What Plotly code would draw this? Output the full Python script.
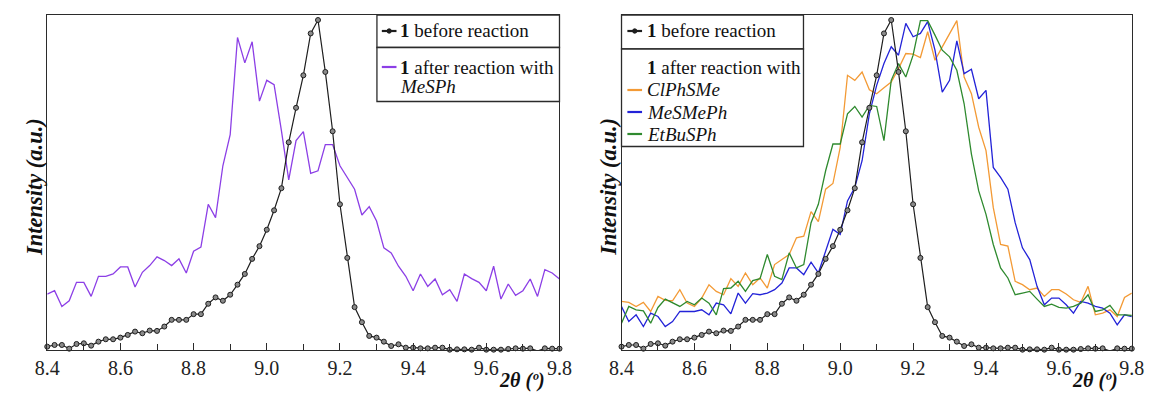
import plotly.graph_objects as go

W, H = 1153, 393

# 2-theta grid (degrees), 0.02 step from 8.40 to 9.80
two_theta = [round(8.40 + 0.02 * i, 2) for i in range(71)]

# Compound 1 before reaction
before = [0.010, 0.015, 0.015, 0.004, 0.018, 0.020, 0.013, 0.025, 0.032, 0.032,
          0.037, 0.045, 0.055, 0.050, 0.058, 0.057, 0.070, 0.090, 0.090, 0.090,
          0.107, 0.107, 0.138, 0.157, 0.147, 0.165, 0.195, 0.227, 0.272, 0.310,
          0.359, 0.417, 0.483, 0.620, 0.723, 0.820, 0.945, 0.985, 0.830, 0.653,
          0.435, 0.275, 0.128, 0.083, 0.042, 0.037, 0.025, 0.012, 0.017, 0.007,
          0.007, 0.005, 0.005, 0.007, 0.007, 0.001, 0.002, 0.002, 0.001, 0.007,
          0.001, 0.001, 0.001, 0.003, 0.005, 0.004, 0.005, -0.003, 0.005, 0.004,
          0.004]

# 1 after reaction with MeSPh
mesph = [0.167, 0.177, 0.130, 0.147, 0.202, 0.202, 0.160, 0.220, 0.220, 0.227,
         0.248, 0.248, 0.188, 0.232, 0.252, 0.278, 0.267, 0.252, 0.272, 0.230,
         0.295, 0.307, 0.435, 0.395, 0.550, 0.643, 0.933, 0.857, 0.920, 0.743,
         0.805, 0.792, 0.655, 0.508, 0.625, 0.652, 0.527, 0.535, 0.613, 0.613,
         0.550, 0.515, 0.480, 0.403, 0.428, 0.385, 0.305, 0.290, 0.250, 0.220,
         0.177, 0.227, 0.190, 0.212, 0.165, 0.180, 0.145, 0.227, 0.213, 0.202,
         0.177, 0.250, 0.152, 0.197, 0.163, 0.177, 0.212, 0.160, 0.240, 0.230,
         0.212]

# 1 after reaction with ClPhSMe
clphsme = [0.145, 0.142, 0.130, 0.142, 0.115, 0.160, 0.148, 0.147, 0.180, 0.140,
           0.130, 0.155, 0.195, 0.175, 0.165, 0.213, 0.190, 0.230, 0.195, 0.215,
           0.185, 0.255, 0.270, 0.285, 0.335, 0.340, 0.413, 0.383, 0.480, 0.497,
           0.605, 0.820, 0.805, 0.830, 0.777, 0.765, 0.783, 0.800, 0.840, 0.885,
           0.883, 0.873, 0.950, 0.865, 0.905, 0.945, 0.983, 0.815, 0.765, 0.665,
           0.595, 0.425, 0.315, 0.310, 0.205, 0.195, 0.180, 0.185, 0.160, 0.180,
           0.180, 0.167, 0.150, 0.142, 0.190, 0.105, 0.110, 0.120, 0.100, 0.157,
           0.170]

# 1 after reaction with MeSMePh
mesmeph = [0.130, 0.085, 0.105, 0.070, 0.110, 0.100, 0.070, 0.085, 0.115, 0.115,
           0.115, 0.120, 0.105, 0.140, 0.135, 0.108, 0.170, 0.140, 0.168, 0.165,
           0.170, 0.180, 0.200, 0.245, 0.245, 0.225, 0.262, 0.230, 0.297, 0.360,
           0.345, 0.445, 0.485, 0.565, 0.705, 0.790, 0.855, 0.905, 0.880, 0.975,
           0.935, 0.945, 0.980, 0.895, 0.770, 0.805, 0.923, 0.825, 0.838, 0.750,
           0.775, 0.545, 0.515, 0.480, 0.380, 0.305, 0.270, 0.190, 0.135, 0.155,
           0.155, 0.135, 0.110, 0.145, 0.140, 0.130, 0.125, 0.110, 0.075, 0.105,
           0.100]

# 1 after reaction with EtBuSPh
etbusph = [0.080, 0.130, 0.120, 0.117, 0.080, 0.127, 0.152, 0.142, 0.130, 0.145,
           0.135, 0.155, 0.140, 0.105, 0.183, 0.185, 0.205, 0.175, 0.207, 0.213,
           0.285, 0.220, 0.210, 0.290, 0.245, 0.255, 0.380, 0.435, 0.535, 0.615,
           0.615, 0.705, 0.727, 0.695, 0.730, 0.727, 0.625, 0.805, 0.855, 0.815,
           0.880, 0.983, 0.983, 0.940, 0.895, 0.875, 0.835, 0.735, 0.585, 0.475,
           0.405, 0.315, 0.245, 0.215, 0.165, 0.170, 0.175, 0.152, 0.130, 0.137,
           0.127, 0.125, 0.130, 0.140, 0.165, 0.115, 0.120, 0.133, 0.105, 0.105,
           0.103]

tick_vals = [8.4, 8.6, 8.8, 9.0, 9.2, 9.4, 9.6, 9.8]
tick_text = ["8.4", "8.6", "8.8", "9.0", "9.2", "9.4", "9.6", "9.8"]

SERIF = "Liberation Serif"
AXIS_COLOR = "#2b2b2b"
TEXT_COLOR = "#111111"
BLACK = "#1e1e1e"
PURPLE = "#8c3fe6"
ORANGE = "#f39a35"
BLUE = "#2323d8"
GREEN = "#2f8a2f"


def px(x):
    return x / W


def py(y):
    return 1 - y / H


fig = go.Figure()

black_style = dict(
    mode="lines+markers",
    line=dict(color=BLACK, width=1.2),
    marker=dict(symbol="circle", size=5, color="#8a8a8a",
                line=dict(color=BLACK, width=1)),
    cliponaxis=False,
    showlegend=False,
)

# left panel
fig.add_trace(go.Scatter(x=two_theta, y=mesph, mode="lines",
                         line=dict(color=PURPLE, width=1.3),
                         xaxis="x", yaxis="y", showlegend=False,
                         name="1 after reaction with MeSPh"))
fig.add_trace(go.Scatter(x=two_theta, y=before, xaxis="x", yaxis="y",
                         name="1 before reaction", **black_style))

# right panel
for vals, col, nm in [(clphsme, ORANGE, "ClPhSMe"),
                      (mesmeph, BLUE, "MeSMePh"),
                      (etbusph, GREEN, "EtBuSPh")]:
    fig.add_trace(go.Scatter(x=two_theta, y=vals, mode="lines",
                             line=dict(color=col, width=1.3),
                             xaxis="x2", yaxis="y2", showlegend=False,
                             name="1 after reaction with " + nm))
fig.add_trace(go.Scatter(x=two_theta, y=before, xaxis="x2", yaxis="y2",
                         name="1 before reaction", **black_style))

ydom = [py(350), py(15)]
xaxis_common = dict(
    range=[8.4, 9.8], showgrid=False, zeroline=False,
    showline=True, mirror=True, linecolor=AXIS_COLOR, linewidth=1.3,
    ticks="inside", ticklen=7, tickwidth=1.2, tickcolor=AXIS_COLOR,
    tickmode="array", tickvals=tick_vals, ticktext=tick_text,
    minor=dict(ticks="inside", ticklen=6, tickwidth=1.2,
               tickcolor=AXIS_COLOR, dtick=0.1, tick0=8.4, showgrid=False),
    tickfont=dict(family=SERIF, size=20, color="#222"),
)
yaxis_common = dict(
    range=[0, 1], showgrid=False, zeroline=False, showticklabels=False,
    showline=True, mirror=True, linecolor=AXIS_COLOR, linewidth=1.3,
    ticks="", domain=ydom,
)

fig.update_layout(
    width=W, height=H,
    margin=dict(l=0, r=0, t=0, b=0),
    font=dict(family=SERIF, color=TEXT_COLOR),
    paper_bgcolor="white", plot_bgcolor="white",
    xaxis=dict(domain=[px(35), px(558.6)], anchor="y", **xaxis_common),
    yaxis=dict(anchor="x", **yaxis_common),
    xaxis2=dict(domain=[px(622), px(1143.6)], anchor="y2", **xaxis_common),
    yaxis2=dict(anchor="x2", **yaxis_common),
)

shapes = []
annotations = []


def box(x0, y0, x1, y1):
    shapes.append(dict(type="rect", xref="paper", yref="paper",
                       x0=px(x0), x1=px(x1), y0=py(y1), y1=py(y0),
                       line=dict(color=AXIS_COLOR, width=1.3),
                       fillcolor="white", layer="above"))


def sample(x0, x1, y, color, dot=False):
    shapes.append(dict(type="line", xref="paper", yref="paper",
                       x0=px(x0), x1=px(x1), y0=py(y), y1=py(y),
                       line=dict(color=color, width=2.2), layer="above"))
    if dot:
        cx = (x0 + x1) / 2
        shapes.append(dict(type="circle", xref="paper", yref="paper",
                           x0=px(cx - 2.2), x1=px(cx + 2.2),
                           y0=py(y + 2.2), y1=py(y - 2.2),
                           line=dict(color=color, width=1),
                           fillcolor=color, layer="above"))


def label(x, y, text, size=19):
    annotations.append(dict(xref="paper", yref="paper", x=px(x), y=py(y),
                            xanchor="left", yanchor="middle", showarrow=False,
                            text=text, font=dict(family=SERIF, size=size,
                                                 color=TEXT_COLOR)))


# legend of left panel
box(372, 15, 558.6, 47.5)
box(372, 47.5, 558.6, 101.5)
sample(377, 392, 31, BLACK, dot=True)
label(394, 31, "<b>1</b> before reaction")
sample(377, 392, 67, PURPLE)
label(394, 67, "<b>1</b> after reaction with")
label(394, 86, "<i>MeSPh</i>")

# legend of right panel
box(622, 15, 808, 49)
box(622, 49, 808, 146.5)
sample(628, 643, 31, BLACK, dot=True)
label(646, 31, "<b>1</b> before reaction")
label(646, 67, "<b>1</b> after reaction with")
sample(628, 643, 90, ORANGE)
label(646, 90, "<i>ClPhSMe</i>")
sample(628, 643, 112, BLUE)
label(646, 112, "<i>MeSMePh</i>")
sample(628, 643, 134, GREEN)
label(646, 134, "<i>EtBuSPh</i>")

# axis titles
for xc in (21.5, 608):
    annotations.append(dict(xref="paper", yref="paper", x=px(xc), y=py(187),
                            xanchor="center", yanchor="middle", textangle=-90,
                            showarrow=False,
                            text="<b><i>Intensity (a.u.)</i></b>",
                            font=dict(family=SERIF, size=22.5, color=TEXT_COLOR)))
for xc in (520, 1106):
    annotations.append(dict(xref="paper", yref="paper", x=px(xc), y=py(380),
                            xanchor="center", yanchor="middle",
                            showarrow=False,
                            text="<b><i>2θ (º)</i></b>",
                            font=dict(family=SERIF, size=20, color=TEXT_COLOR)))

fig.update_layout(shapes=shapes, annotations=annotations)

fig.write_html("out.html")
